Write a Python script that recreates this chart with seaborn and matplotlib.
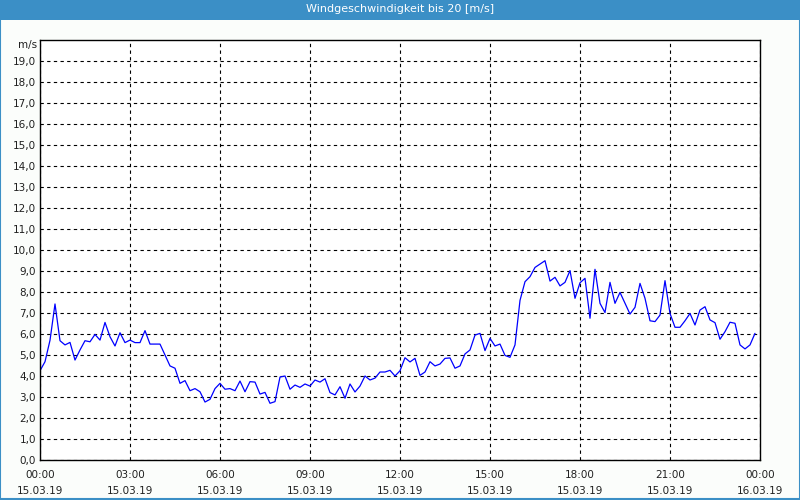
import numpy as np
import pandas as pd
import matplotlib
matplotlib.use("Agg")
import matplotlib.pyplot as plt
import matplotlib.dates as mdates
from matplotlib.patches import Rectangle
import seaborn as sns

title = "Windgeschwindigkeit bis 20 [m/s]"
unit_label = "m/s"
start_time = "2019-03-15 00:00"
sample_freq = "10min"

# wind speed in m/s, one value per 10 minutes, 00:00 .. 23:50
wind_speed = [
    4.25, 4.68, 5.70, 7.43, 5.68, 5.48, 5.60, 4.76, 5.24, 5.68, 5.63, 5.98,
    5.71, 6.55, 5.87, 5.43, 6.06, 5.59, 5.71, 5.59, 5.59, 6.16, 5.52, 5.52,
    5.52, 5.00, 4.48, 4.37, 3.65, 3.78, 3.30, 3.40, 3.25, 2.76, 2.89, 3.40,
    3.65, 3.37, 3.40, 3.30, 3.76, 3.25, 3.73, 3.71, 3.14, 3.22, 2.70, 2.78,
    3.95, 4.00, 3.37, 3.57, 3.46, 3.62, 3.52, 3.81, 3.71, 3.87, 3.21, 3.10,
    3.49, 2.94, 3.62, 3.24, 3.52, 4.00, 3.81, 3.90, 4.19, 4.19, 4.27, 4.00,
    4.25, 4.87, 4.67, 4.84, 4.03, 4.19, 4.68, 4.48, 4.57, 4.84, 4.86, 4.37,
    4.48, 5.05, 5.24, 5.95, 6.03, 5.21, 5.79, 5.43, 5.52, 4.98, 4.89, 5.48,
    7.60, 8.49, 8.73, 9.17, 9.33, 9.49, 8.52, 8.70, 8.29, 8.46, 9.02, 7.70,
    8.44, 8.65, 6.75, 9.08, 7.46, 7.02, 8.46, 7.46, 7.98, 7.46, 6.95, 7.27,
    8.41, 7.70, 6.63, 6.59, 6.90, 8.54, 6.98, 6.32, 6.32, 6.63, 6.98, 6.43,
    7.14, 7.30, 6.67, 6.54, 5.75, 6.11, 6.56, 6.51, 5.48, 5.29, 5.48, 6.03,
]

y_ticks = list(range(0, 20))
y_tick_labels = [f"{v},0" for v in y_ticks]
x_tick_times = ["00:00", "03:00", "06:00", "09:00", "12:00", "15:00", "18:00", "21:00", "00:00"]
x_tick_dates = ["15.03.19"] * 8 + ["16.03.19"]

times = pd.date_range(start_time, periods=len(wind_speed), freq=sample_freq)
df = pd.DataFrame({"time": times, "speed": wind_speed})

sns.set_style("white")
plt.rcParams["font.family"] = ["DejaVu Sans"]

fig = plt.figure(figsize=(8, 5), dpi=100)
fig.patch.set_facecolor("#fbfdfb")

# title bar and outer frame
blue = "#3b8fc6"
fig.patches.append(Rectangle((0, 0.96), 1, 0.04, transform=fig.transFigure,
                             facecolor=blue, edgecolor="none", zorder=0))
fig.patches.append(Rectangle((0.0006, 0.003), 0.9988, 0.994, transform=fig.transFigure,
                             facecolor="none", edgecolor=blue, linewidth=1.5, zorder=0))
fig.text(0.5, 0.981, title, ha="center", va="center", color="white",
         fontsize=8)

ax = fig.add_axes([0.05, 0.08, 0.90, 0.84])
ax.set_facecolor("white")

sns.lineplot(data=df, x="time", y="speed", ax=ax, color="#0000ff", linewidth=0.9)

t0 = pd.Timestamp(start_time)
t1 = t0 + pd.Timedelta(hours=24)
ax.set_xlim(t0, t1)
ax.set_ylim(0, 20)

ax.set_yticks(y_ticks)
ax.set_yticklabels(y_tick_labels)
major_locs = [t0 + pd.Timedelta(hours=3 * i) for i in range(9)]
ax.set_xticks(major_locs)
ax.set_xticklabels([f"{a}\n{b}" for a, b in zip(x_tick_times, x_tick_dates)],
                   linespacing=1.75)
ax.xaxis.set_minor_locator(mdates.HourLocator())

ax.grid(True, which="major", color="black", linestyle=(0, (3, 3)), linewidth=0.8)
ax.set_axisbelow(True)

for s in ax.spines.values():
    s.set_color("black")
    s.set_linewidth(1.0)
    s.set_visible(True)

ax.tick_params(axis="x", which="both", direction="out", length=3, width=0.8,
               color="black", labelsize=7.5, labelcolor="#202020", pad=4)
ax.tick_params(axis="y", which="both", length=0, labelsize=7.5,
               labelcolor="#202020", pad=3)
ax.set_xlabel("")
ax.set_ylabel("")
ax.text(-0.004, 0.988, unit_label, transform=ax.transAxes, ha="right", va="center",
        fontsize=7.5, color="#202020")

fig.savefig("out.png", dpi=100, facecolor=fig.get_facecolor())
